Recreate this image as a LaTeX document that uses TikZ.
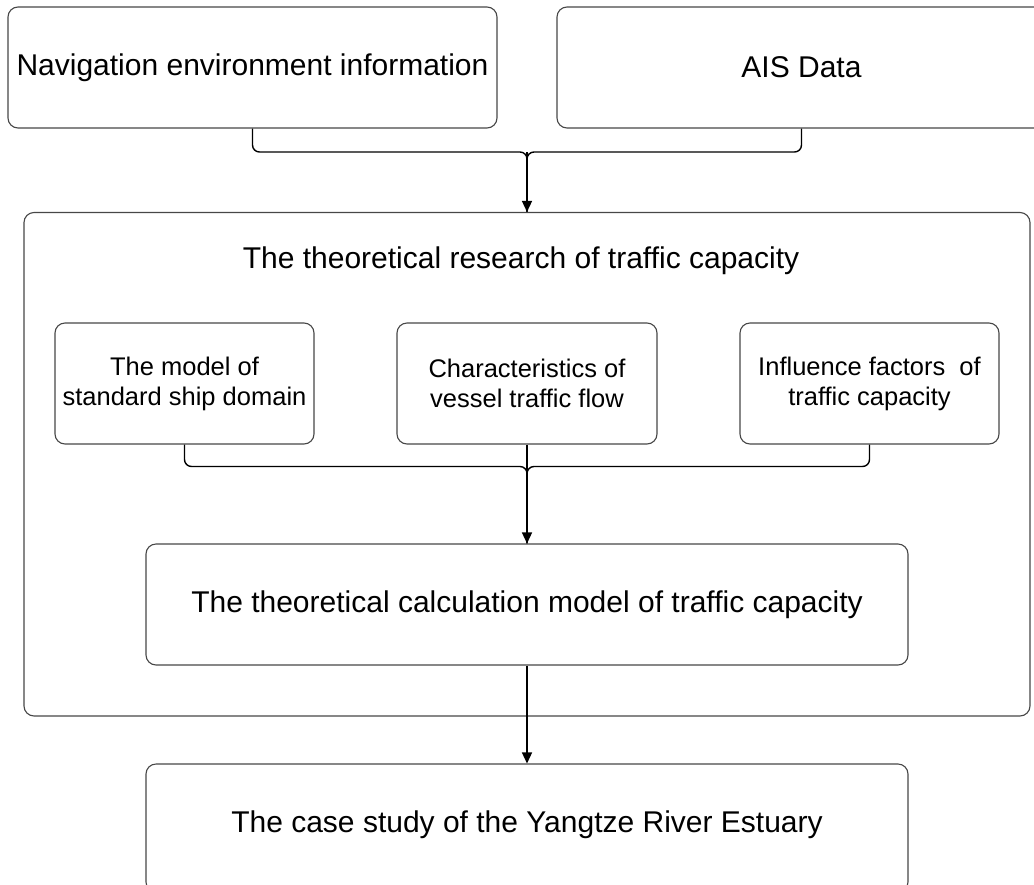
\documentclass[tikz,border=0pt]{standalone}
\usepackage{fontspec}
\setmainfont{Liberation Sans}
\usetikzlibrary{arrows.meta}
\tikzset{
  box/.style={draw=black!72, line width=1.1pt, rounded corners=10pt, minimum height=121pt, inner sep=0pt, align=center, font=\fontsize{30}{36}\selectfont},
  smallbox/.style={box, font=\fontsize{25.5}{30}\selectfont},
  titletext/.style={inner sep=0pt, font=\fontsize{30}{36}\selectfont},
  conn/.style={draw=black, line width=1.4pt, rounded corners=7pt},
  arr/.style={draw=black, line width=1.4pt, -{Triangle[length=11pt,width=10pt]}},
}
\begin{document}
\begin{tikzpicture}[x=1pt,y=-1pt]
\useasboundingbox (0,0) rectangle (1034,884);
\clip (0,0) rectangle (1034,884);
% top inputs
\node[box, minimum width=489pt] (nav) at (252.5,67.5) {Navigation environment information};
\node[box, minimum width=489pt] (ais) at (801.5,67.5) {AIS Data};
% container
\node[box, minimum width=1006pt, minimum height=503.5pt] (big) at (527,464.25) {};
\node[titletext] (title) at (521,261) {The theoretical research of traffic capacity};
% small boxes
\node[smallbox, minimum width=259pt] (s1) at (184.5,383.5) {The model of\\standard ship domain};
\node[smallbox, minimum width=260pt] (s2) at (527,383.5) {Characteristics of\\vessel traffic flow};
\node[smallbox, minimum width=259pt] (s3) at (869.5,383.5) {Influence factors~ of\\traffic capacity};
% calculation model
\node[box, minimum width=762pt] (calc) at (527,604.5) {The theoretical calculation model of traffic capacity};
% case study (its lower edge lies below the picture)
\node[box, minimum width=762pt, minimum height=128pt] (case) at (527,828) {};
\node[titletext] (casetext) at (527,824.5) {The case study of the Yangtze River Estuary};
% connectors
\coordinate (j1) at (527,152);
\draw[conn] (nav.south) |- (j1) -- (big.north);
\draw[conn] (ais.south) |- (j1) -- (big.north);
\draw[arr] (j1) -- (big.north);
\coordinate (j2) at (527,466.5);
\draw[conn] (s1.south) |- (j2) -- (calc.north);
\draw[conn] (s3.south) |- (j2) -- (calc.north);
\draw[arr] (s2.south) -- (calc.north);
\draw[arr] (calc.south) -- (case.north);
\end{tikzpicture}
\end{document}
